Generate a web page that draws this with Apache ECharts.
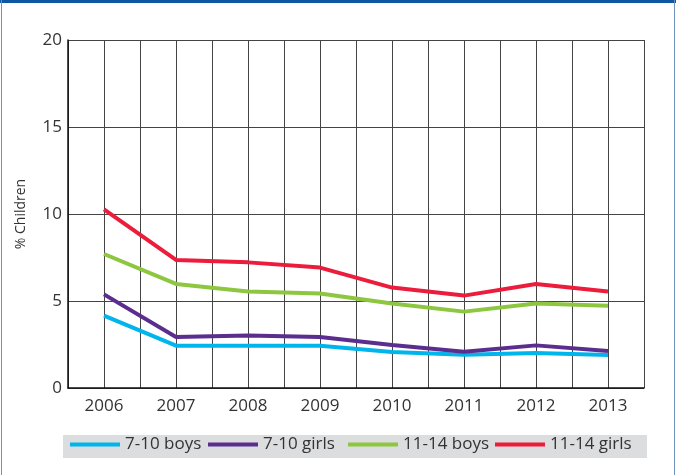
<!DOCTYPE html>
<html>
<head>
<meta charset="utf-8">
<script src="https://cdn.jsdelivr.net/npm/echarts@6/dist/echarts.min.js"></script>
<style>
html,body{margin:0;padding:0;background:#fff;}
#chart{width:676px;height:475px;}
</style>
</head>
<body>
<div id="chart"></div>
<script>
var years = [2006, 2007, 2008, 2009, 2010, 2011, 2012, 2013];
var boys710 = [4.16, 2.43, 2.43, 2.43, 2.07, 1.91, 2.01, 1.90];
var girls710 = [5.38, 2.93, 3.02, 2.93, 2.47, 2.09, 2.45, 2.13];
var boys1114 = [7.70, 5.98, 5.54, 5.43, 4.86, 4.39, 4.85, 4.73];
var girls1114 = [10.27, 7.36, 7.22, 6.92, 5.77, 5.31, 5.98, 5.54];
var seriesNames = ['7-10 boys', '7-10 girls', '11-14 boys', '11-14 girls'];
var seriesColors = ['#00b5ec', '#5b2d8e', '#8dc63f', '#ec1c3c'];
var yTicks = [0, 5, 10, 15, 20];

var font = '"Open Sans", sans-serif';
function pairs(vals){ return years.map(function(y,i){ return [y, vals[i]]; }); }
var allVals = [boys710, girls710, boys1114, girls1114];

var chart = echarts.init(document.getElementById('chart'));
var legendLefts = [70, 208, 348, 495];
chart.setOption({
  animation: false,
  backgroundColor: '#fff',
  grid: {left: 68, right: 32, top: 40, bottom: 87},
  xAxis: {
    type: 'value', min: years[0] - 0.5, max: years[years.length-1] + 0.5, interval: 0.5,
    axisLine: {show: true, lineStyle: {color: '#111', width: 1.5}},
    axisTick: {show: false},
    axisLabel: {color: '#333', fontSize: 17, fontFamily: font, margin: 10,
      formatter: function(v){ return (Math.abs(v - Math.round(v)) < 1e-6) ? String(Math.round(v)) : ''; }},
    splitLine: {show: true, lineStyle: {color: '#444', width: 1}}
  },
  yAxis: {
    type: 'value', min: yTicks[0], max: yTicks[yTicks.length-1], interval: 5,
    name: '% Children', nameLocation: 'middle', nameRotate: 90, nameGap: 40,
    nameTextStyle: {color: '#333', fontSize: 14, fontFamily: font},
    axisLine: {show: true, lineStyle: {color: '#111', width: 1.5}},
    axisTick: {show: false},
    axisLabel: {color: '#333', fontSize: 17, fontFamily: font, margin: 6},
    splitLine: {show: true, lineStyle: {color: '#444', width: 1}}
  },
  legend: seriesNames.map(function(n, i){
    return {data: [n], left: legendLefts[i], top: 436, itemWidth: 50, itemHeight: 4, itemGap: 0,
      icon: 'rect', padding: 0,
      textStyle: {color: '#333', fontSize: 17, fontFamily: font, padding: [0,0,0,0]}};
  }),
  graphic: [
    {type: 'rect', z: -1, shape: {x: 63, y: 435, width: 584, height: 23}, style: {fill: '#dcdddf'}},
    {type: 'rect', shape: {x: 0, y: 0, width: 676, height: 3}, style: {fill: '#0d57a3'}},
    {type: 'rect', shape: {x: 1, y: 0, width: 1, height: 475}, style: {fill: '#6f93bf'}},
    {type: 'rect', shape: {x: 674, y: 0, width: 1, height: 475}, style: {fill: '#6f93bf'}}
  ],
  series: allVals.map(function(v, i){
    return {name: seriesNames[i], type: 'line', data: pairs(v), symbol: 'none',
      lineStyle: {color: seriesColors[i], width: 4}, itemStyle: {color: seriesColors[i]}, z: 3};
  })
});
</script>
</body>
</html>
